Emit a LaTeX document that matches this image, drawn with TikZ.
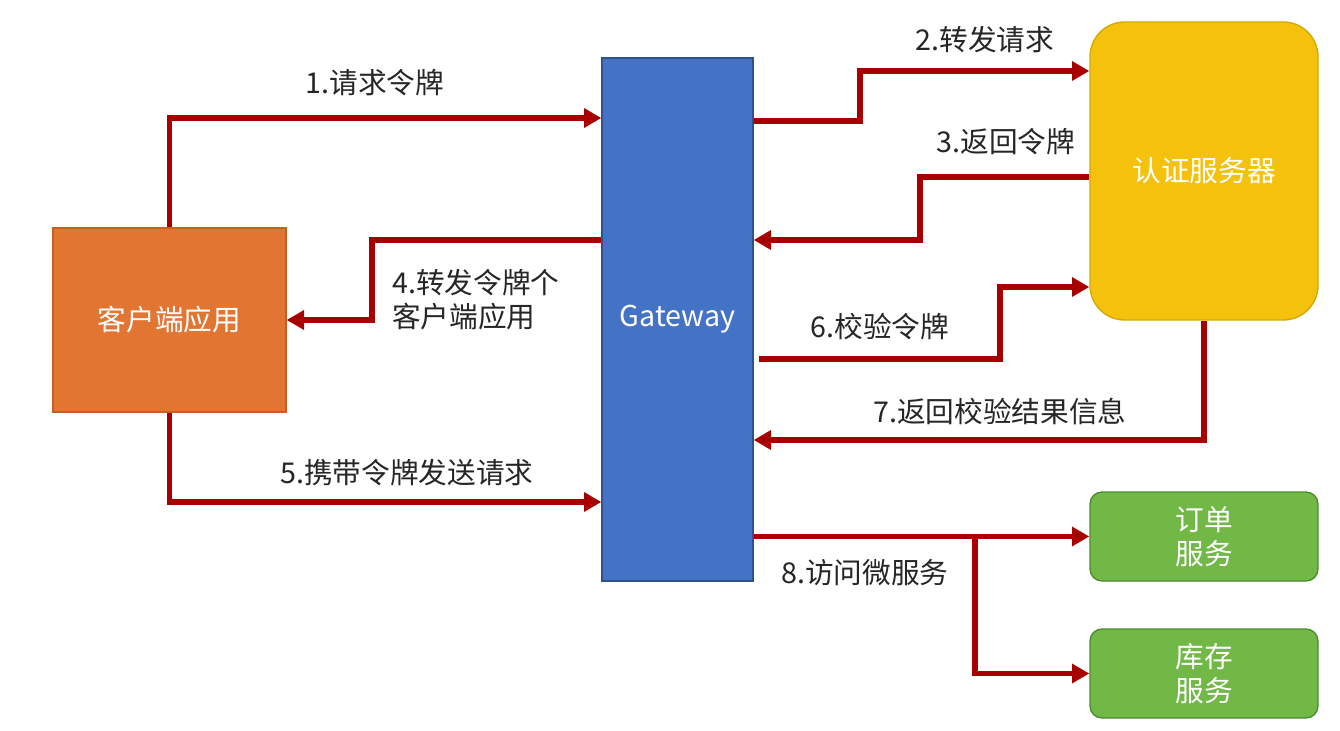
\documentclass[tikz,border=0pt]{standalone}
\usepackage{fontspec}
\setmainfont{Noto Sans CJK SC}
\usetikzlibrary{arrows.meta}
\definecolor{arrred}{HTML}{A80000}
\definecolor{orangebox}{HTML}{E27532}
\definecolor{orangeedge}{HTML}{C85F22}
\definecolor{bluebox}{HTML}{4472C4}
\definecolor{blueedge}{HTML}{2F528F}
\definecolor{yellowbox}{HTML}{F4C20D}
\definecolor{yellowedge}{HTML}{D4A800}
\definecolor{greenbox}{HTML}{71B847}
\definecolor{greenedge}{HTML}{4E8A2E}
\definecolor{labeltext}{HTML}{262626}
\tikzset{
  box/.style={draw, line width=1pt, inner sep=0pt, text=white, align=center,
    font=\fontsize{21.5}{25.5}\selectfont},
  arr/.style={draw=arrred, line width=3.8pt, line join=miter,
    -{Triangle[length=13pt,width=14pt]}},
  lbl/.style={text=labeltext, font=\fontsize{21.5}{25.5}\selectfont, inner sep=0pt, align=left}
}
\begin{document}
\begin{tikzpicture}[x=0.75pt,y=-0.75pt]
\useasboundingbox (0,0) rectangle (1340,731);
\fill[white] (0,0) rectangle (1340,731);
% boxes
\node[box, fill=orangebox, draw=orangeedge, minimum width=174.75pt, minimum height=138pt] (client) at (169.5,320) {客户端应用};
\node[box, fill=bluebox, draw=blueedge, minimum width=113.25pt, minimum height=392.25pt] (gw) at (677.5,319.5) {Gateway};
\node[box, fill=yellowbox, draw=yellowedge, rounded corners=26pt, minimum width=171pt, minimum height=223.5pt] (auth) at (1204,171) {认证服务器};
\node[box, fill=greenbox, draw=greenedge, rounded corners=9pt, minimum width=171pt, minimum height=66.75pt] (order) at (1204,536.5) {订单\\服务};
\node[box, fill=greenbox, draw=greenedge, rounded corners=9pt, minimum width=171pt, minimum height=66.75pt] (stock) at (1204,673.5) {库存\\服务};
% connectors
\draw[arr] (client.north) |- (gw.west |- 0,118);
\draw[arr] (gw.east |- 0,121) -- (860,121) |- (auth.west |- 0,71);
\draw[arr] (auth.west |- 0,177) -- (920,177) |- (gw.east |- 0,240);
\draw[arr] (gw.west |- 0,240) -- (372,240) |- (client.east);
\draw[arr] (client.south) |- (gw.west |- 0,502);
\draw[arr] ([xshift=3.75pt]gw.east |- 0,359) -- (1000,359) |- (auth.west |- 0,287);
\draw[arr] (auth.south) |- (gw.east |- 0,440);
\coordinate (br) at (975,537);
\draw[arr] (gw.east |- order.west) -- (order.west);
\draw[arr] (br) |- (stock.west);
% labels
\node[lbl] (l1) at (375,83) {1.请求令牌};
\node[lbl] (l2) at (985,40) {2.转发请求};
\node[lbl] (l3) at (1006,142) {3.返回令牌};
\node[lbl, anchor=west] (l4) at (392,300) {4.转发令牌个\\客户端应用};
\node[lbl] (l5) at (407,473) {5.携带令牌发送请求};
\node[lbl] (l6) at (880,327) {6.校验令牌};
\node[lbl] (l7) at (1000,412) {7.返回校验结果信息};
\node[lbl] (l8) at (865,573) {8.访问微服务};
\end{tikzpicture}
\end{document}
